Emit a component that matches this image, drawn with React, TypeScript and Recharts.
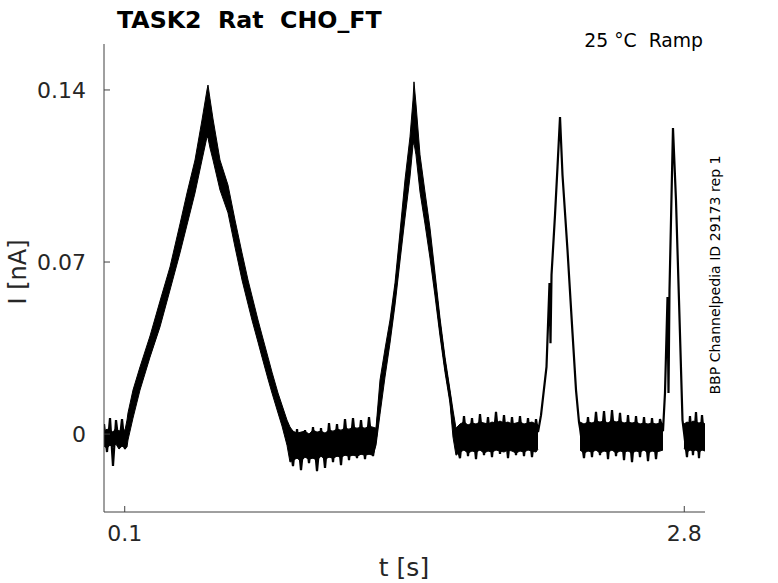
import React from "react";
import { ComposedChart, Area, Line, XAxis, YAxis } from "recharts";

// rows are [t (s), lower edge (nA), upper edge (nA), trace (nA)]
const baseline1 = [
  [0, -0.0049, 0.0012, 0.0041],
  [0.0145, -0.0057, 0.002, -0.0073],
  [0.029, -0.0045, 0.0016, 0.0065],
  [0.0434, -0.0053, 0.0008, -0.013],
  [0.0579, -0.0041, 0.0024, 0.0057],
  [0.0724, -0.0061, 0.0012, -0.0049],
  [0.0869, -0.0049, 0.002, 0.0061],
  [0.1013, -0.0057, 0.0016, -0.0061],
  [0.111, -0.0053, 0.0057, 0.0024],
];

const ramp1 = [
  [0.1158, -0.0024, 0.0086, 0.0031],
  [0.1399, 0.0065, 0.0179, 0.0122],
  [0.1737, 0.0179, 0.0273, 0.0226],
  [0.222, 0.0313, 0.0399, 0.0356],
  [0.2702, 0.0436, 0.0541, 0.0488],
  [0.3185, 0.0586, 0.068, 0.0633],
  [0.3667, 0.0737, 0.0855, 0.0796],
  [0.4005, 0.0851, 0.0981, 0.0916],
  [0.4391, 0.0981, 0.1115, 0.1048],
  [0.4729, 0.1115, 0.1278, 0.1197],
  [0.497, 0.1209, 0.14, 0.1304],
  [0.5018, 0.1205, 0.142, 0.1312],
  [0.5115, 0.1164, 0.1364, 0.1264],
  [0.526, 0.1115, 0.1282, 0.1199],
  [0.5597, 0.0993, 0.1115, 0.1054],
  [0.5983, 0.09, 0.1013, 0.0956],
  [0.6321, 0.0761, 0.0871, 0.0816],
  [0.6659, 0.0627, 0.0737, 0.0682],
  [0.6948, 0.0529, 0.0627, 0.0578],
  [0.7141, 0.0464, 0.0562, 0.0513],
  [0.7431, 0.0374, 0.0464, 0.0419],
  [0.7624, 0.0313, 0.0403, 0.0358],
  [0.7913, 0.0224, 0.0313, 0.0269],
  [0.8107, 0.0167, 0.0252, 0.021],
  [0.8396, 0.0086, 0.0167, 0.0126],
  [0.8589, 0.0033, 0.0118, 0.0075],
  [0.883, -0.0045, 0.0057, 0.0006],
  [0.8975, -0.0114, 0.0029, -0.0043],
];

const baseline2 = [
  [0.912, -0.0106, 0.0012, -0.013],
  [0.9314, -0.0098, 0.0004, 0.002],
  [0.9506, -0.011, 0.0008, -0.0147],
  [0.9699, -0.0094, 0.0012, 0.0016],
  [0.9892, -0.0102, 0.0, -0.0118],
  [1.0085, -0.0098, 0.0016, 0.0028],
  [1.0278, -0.0106, 0.0008, -0.0151],
  [1.0471, -0.009, 0.0012, 0.0024],
  [1.0664, -0.0102, 0.0004, -0.0138],
  [1.0857, -0.0094, 0.0016, 0.0045],
  [1.105, -0.0098, 0.0012, -0.0114],
  [1.1243, -0.009, 0.002, 0.0041],
  [1.1436, -0.0094, 0.0016, -0.0126],
  [1.1629, -0.0086, 0.0024, 0.0061],
  [1.1822, -0.009, 0.002, -0.0106],
  [1.2015, -0.0086, 0.0028, 0.0065],
  [1.2208, -0.009, 0.0024, -0.0098],
  [1.2401, -0.0082, 0.0028, 0.0057],
  [1.2594, -0.0086, 0.0024, -0.0102],
  [1.2787, -0.0082, 0.0032, 0.0069],
  [1.298, -0.0086, 0.0028, -0.009],
];

const ramp2 = [
  [1.3125, -0.0045, 0.0024, -0.001],
  [1.3318, 0.0081, 0.022, 0.0151],
  [1.3559, 0.0232, 0.0346, 0.0289],
  [1.38, 0.037, 0.0464, 0.0417],
  [1.4042, 0.0525, 0.0615, 0.057],
  [1.4283, 0.0704, 0.0822, 0.0763],
  [1.4524, 0.0879, 0.1034, 0.0956],
  [1.4765, 0.1046, 0.1209, 0.1127],
  [1.491, 0.1176, 0.1359, 0.1268],
  [1.4958, 0.1184, 0.1433, 0.1309],
  [1.5054, 0.1136, 0.1343, 0.1239],
  [1.5248, 0.0985, 0.1136, 0.106],
  [1.5489, 0.0855, 0.0985, 0.092],
  [1.573, 0.0716, 0.0838, 0.0777],
  [1.5972, 0.0562, 0.0655, 0.0609],
  [1.6213, 0.0399, 0.0472, 0.0436],
  [1.6454, 0.0252, 0.0313, 0.0283],
  [1.6696, 0.0126, 0.0179, 0.0153],
  [1.684, -0.0012, 0.0098, 0.0043],
  [1.6985, -0.0086, 0.0024, -0.0031],
];

const baseline3 = [
  [1.7178, -0.0073, 0.0041, -0.0098],
  [1.7371, -0.0065, 0.0049, 0.0073],
  [1.7564, -0.0077, 0.0037, -0.009],
  [1.7757, -0.0069, 0.0045, 0.0065],
  [1.795, -0.0073, 0.0041, -0.0102],
  [1.8143, -0.0065, 0.0049, 0.0081],
  [1.8336, -0.0077, 0.0045, -0.0086],
  [1.8529, -0.0069, 0.0041, 0.0069],
  [1.8722, -0.0073, 0.0049, -0.0094],
  [1.8915, -0.0065, 0.0045, 0.009],
  [1.9108, -0.0069, 0.0053, -0.0081],
  [1.9301, -0.0073, 0.0045, 0.0077],
  [1.9494, -0.0065, 0.0049, -0.0098],
  [1.9687, -0.0069, 0.0041, 0.0069],
  [1.988, -0.0077, 0.0045, -0.0086],
  [2.0073, -0.0069, 0.0049, 0.0073],
  [2.0266, -0.0073, 0.0041, -0.009],
  [2.0459, -0.0065, 0.0045, 0.0065],
  [2.0652, -0.0069, 0.0049, -0.0094],
  [2.0845, -0.0073, 0.0041, 0.0061],
  [2.0942, -0.0061, 0.0037, 0.0008],
];

// thin peaks: [t (s), trace (nA)]
const ramp3 = [
  [2.1087, 0.0077],
  [2.1352, 0.0273],
  [2.1497, 0.0615],
  [2.1545, 0.037],
  [2.1594, 0.0647],
  [2.1762, 0.0891],
  [2.1883, 0.1087],
  [2.2004, 0.129],
  [2.2124, 0.1054],
  [2.2365, 0.0749],
  [2.2607, 0.0411],
  [2.2776, 0.0179],
  [2.292, 0.0049],
];

const baseline4 = [
  [2.2969, -0.0065, 0.0049, 0.0024],
  [2.3161, -0.0077, 0.0041, -0.0098],
  [2.3354, -0.0069, 0.0049, 0.0069],
  [2.3547, -0.0073, 0.0045, -0.0094],
  [2.374, -0.0065, 0.0053, 0.009],
  [2.3933, -0.0077, 0.0049, -0.0086],
  [2.4127, -0.0069, 0.0053, 0.0094],
  [2.432, -0.0073, 0.0045, -0.0102],
  [2.4513, -0.0065, 0.0057, 0.0098],
  [2.4706, -0.0077, 0.0049, -0.009],
  [2.4899, -0.0069, 0.0053, 0.0086],
  [2.5092, -0.0073, 0.0045, -0.0106],
  [2.5285, -0.0069, 0.0049, 0.0077],
  [2.5478, -0.0077, 0.0045, -0.0114],
  [2.5671, -0.0069, 0.0049, 0.0073],
  [2.5864, -0.0073, 0.0041, -0.0094],
  [2.6057, -0.0065, 0.0045, 0.0069],
  [2.625, -0.0077, 0.0041, -0.011],
  [2.6443, -0.0069, 0.0045, 0.0065],
  [2.6636, -0.0073, 0.0041, -0.0102],
  [2.6829, -0.0069, 0.0045, 0.0061],
  [2.6973, -0.0065, 0.0037, 0.0012],
];

const ramp4 = [
  [2.7069, 0.0167],
  [2.7191, 0.0558],
  [2.7239, 0.0167],
  [2.7287, 0.0586],
  [2.7455, 0.1245],
  [2.76, 0.0952],
  [2.7745, 0.0545],
  [2.7914, 0.0057],
];

const baseline5 = [
  [2.7986, -0.0057, 0.0041, 0.0008],
  [2.8131, -0.0073, 0.0049, -0.0094],
  [2.8276, -0.0065, 0.0045, 0.0073],
  [2.842, -0.0069, 0.0053, -0.0086],
  [2.8565, -0.0065, 0.0049, 0.009],
  [2.871, -0.0073, 0.0045, -0.0098],
  [2.8855, -0.0065, 0.0049, 0.0077],
  [2.9, -0.0069, 0.0041, -0.0061],
];

const xTicks = [0.1, 2.8];
const yTicks = [0, 0.07, 0.14];

const banded = (rows: number[][]) =>
  rows.map(([t, lo, hi, v]) => ({ t, band: [lo, hi], v }));
const thin = (rows: number[][]) =>
  rows.map(([t, v]) => ({ t, band: null, v }));

const data = [
  ...banded(baseline1),
  ...banded(ramp1),
  ...banded(baseline2),
  ...banded(ramp2),
  ...banded(baseline3),
  ...thin(ramp3),
  ...banded(baseline4),
  ...thin(ramp4),
  ...banded(baseline5),
];

const font = "'DejaVu Sans', sans-serif";
const tickStyle = { fill: "#262626", fontSize: 22, fontFamily: font };

export default function App() {
  return (
    <div style={{ position: "absolute", left: 0, top: 0, width: 778, height: 583, background: "#fff" }}>
      <ComposedChart
        width={778}
        height={583}
        data={data}
        margin={{ top: 44, right: 73, bottom: 41, left: 44 }}
      >
        <XAxis
          type="number"
          dataKey="t"
          domain={[0, 2.9]}
          ticks={xTicks}
          allowDataOverflow
          height={30}
          stroke="#404040"
          tickSize={-6}
          tickMargin={19}
          tick={tickStyle}
          tickFormatter={(v) => String(v)}
        />
        <YAxis
          type="number"
          domain={[-0.0317, 0.1587]}
          ticks={yTicks}
          allowDataOverflow
          width={60}
          stroke="#404040"
          tickSize={-6}
          tickMargin={24}
          tick={tickStyle}
          tickFormatter={(v) => (v === 0 ? "0" : String(v))}
        />
        <Area
          type="linear"
          dataKey="band"
          stroke="#000"
          strokeWidth={1}
          fill="#000"
          fillOpacity={1}
          dot={false}
          activeDot={false}
          isAnimationActive={false}
        />
        <Line
          type="linear"
          dataKey="v"
          stroke="#000"
          strokeWidth={2.2}
          dot={false}
          activeDot={false}
          connectNulls
          isAnimationActive={false}
        />
      </ComposedChart>
      <svg
        width={778}
        height={583}
        style={{ position: "absolute", left: 0, top: 0, pointerEvents: "none" }}
      >
        <text x={117} y={28} fontFamily={font} fontWeight="bold" fontSize={23.7} fill="#000" style={{ whiteSpace: "pre" }}>
          TASK2  Rat  CHO_FT
        </text>
        <text x={703} y={47} textAnchor="end" fontFamily={font} fontSize={18.8} fill="#000" style={{ whiteSpace: "pre" }}>
          25 °C  Ramp
        </text>
        <text transform="translate(26,272) rotate(-90)" textAnchor="middle" fontFamily={font} fontSize={24} fill="#262626">
          I [nA]
        </text>
        <text x={404} y={576} textAnchor="middle" fontFamily={font} fontSize={25} fill="#262626">
          t [s]
        </text>
        <text transform="translate(720,275) rotate(-90)" textAnchor="middle" fontFamily={font} fontSize={14.1} fill="#000">
          BBP Channelpedia ID 29173 rep 1
        </text>
      </svg>
    </div>
  );
}
